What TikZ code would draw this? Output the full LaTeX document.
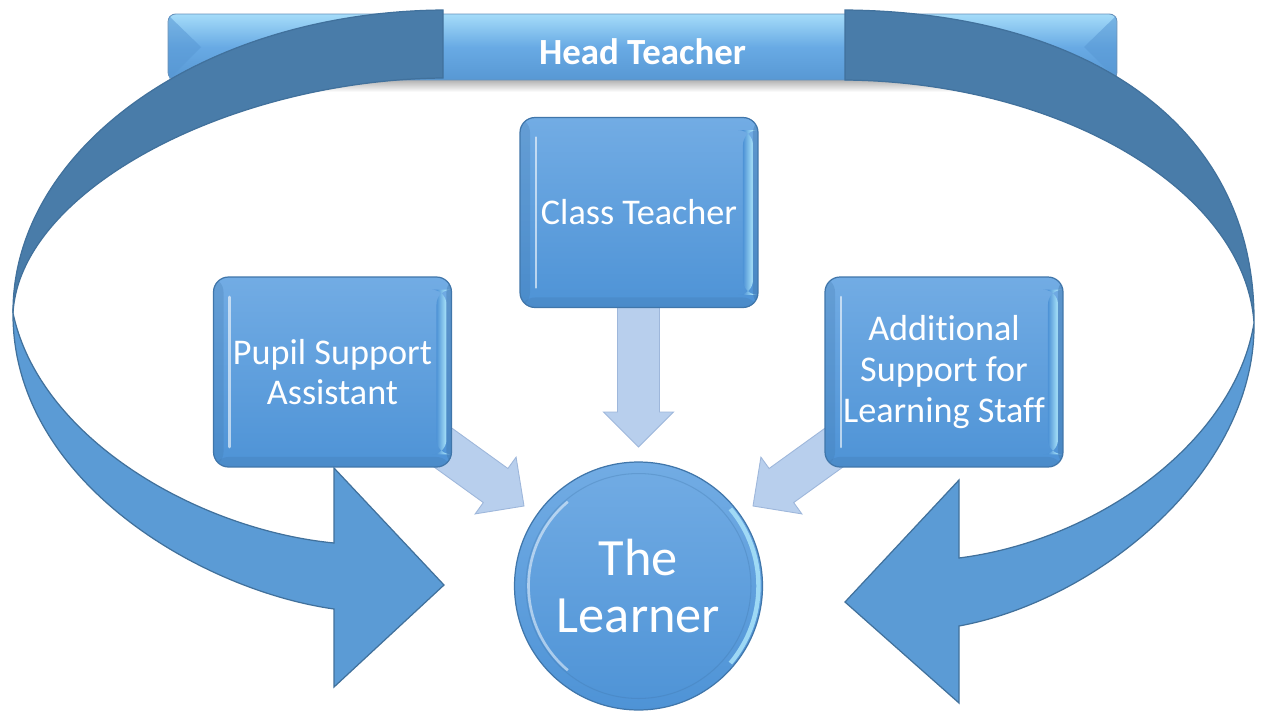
\documentclass[tikz,border=0pt]{standalone}
\usepackage{fontspec}
\setmainfont{Carlito}[Ligatures=NoCommon]
\usetikzlibrary{calc}

\definecolor{ribbondark}{RGB}{73,124,169}
\definecolor{ribbonlight}{RGB}{91,155,213}
\definecolor{ribbonedge}{RGB}{65,113,156}
\definecolor{boxtop}{RGB}{114,172,228}
\definecolor{boxbottom}{RGB}{78,147,214}
\definecolor{boxedge}{RGB}{64,118,170}
\definecolor{rim}{RGB}{170,228,250}
\definecolor{headtop}{RGB}{165,220,249}
\definecolor{headmid}{RGB}{104,170,228}
\definecolor{headbottom}{RGB}{88,152,212}
\definecolor{arrowfill}{RGB}{184,207,237}
\definecolor{arrowedge}{RGB}{158,183,219}

\tikzset{
  % light block arrow pointing along +x, tip at the origin
  feedarrow/.pic={
    \filldraw[fill=arrowfill, draw=arrowedge, line width=0.5pt]
      (0,0) -- (-35,-35) -- (-35,-21) -- (-150,-21) -- (-150,21)
      -- (-35,21) -- (-35,35) -- cycle;
  },
  roleBox/.style={
    draw=boxedge, line width=0.7pt, rounded corners=0.3cm,
    top color=boxtop, bottom color=boxbottom,
    minimum width=4.76cm, minimum height=3.8cm, inner sep=0pt,
    text=white, align=center, font=\fontsize{20.6}{23.2}\selectfont,
    path picture={
      \fill[boxedge, opacity=.25] (path picture bounding box.north west)
        rectangle ([xshift=0.2cm]path picture bounding box.south west);
      \draw[white, opacity=.6, line width=1.5pt, line cap=round]
        ([xshift=0.32cm,yshift=-0.4cm]path picture bounding box.north west)
        -- ([xshift=0.32cm,yshift=0.4cm]path picture bounding box.south west);
      \shade[left color=boxbottom, right color=rim]
        ([xshift=-0.3cm,yshift=-0.25cm]path picture bounding box.north east)
        rectangle ([xshift=-0.1cm,yshift=0.25cm]path picture bounding box.south east);
      \fill[boxedge, opacity=.4] ([xshift=-0.1cm]path picture bounding box.north east)
        rectangle (path picture bounding box.south east);
      \fill[boxedge, opacity=.25] ([yshift=0.2cm]path picture bounding box.south west)
        rectangle (path picture bounding box.south east);
    }
  },
  learnerCircle/.style={
    circle, draw=boxedge, line width=0.7pt, minimum size=4.96cm, inner sep=0pt,
    top color=boxtop, bottom color=boxbottom,
    text=white, align=center, font=\fontsize{29.8}{33}\selectfont,
    path picture={
      \draw[boxedge, opacity=.3, line width=0.6pt]
        (path picture bounding box.center) circle[radius=2.25cm];
      \draw[white, opacity=.5, line width=1.5pt]
        ([shift={(130:2.2cm)}]path picture bounding box.center)
        arc[start angle=130, end angle=230, radius=2.2cm];
      \draw[rim, opacity=.85, line width=2.5pt]
        ([shift={(-40:2.4cm)}]path picture bounding box.center)
        arc[start angle=-40, end angle=40, radius=2.4cm];
    }
  },
  headBar/.style={
    draw=boxedge!80, line width=0.5pt, rounded corners=0.15cm,
    top color=headtop, bottom color=headbottom, middle color=headmid,
    minimum width=18.98cm, minimum height=1.32cm, inner sep=0pt
  },
  headText/.style={text=white, font=\fontsize{21}{24}\selectfont\bfseries},
  ribbonBack/.style={fill=ribbondark, draw=ribbonedge, line width=0.7pt},
  ribbonFront/.style={fill=ribbonlight, draw=ribbonedge, line width=0.7pt}
}

\begin{document}
\begin{tikzpicture}[x=0.02cm, y=-0.02cm]
\useasboundingbox (0,0) rectangle (1261,710);
\fill[white] (0,0) rectangle (1261,710);

% head teacher bar with its soft shadow and bevelled ends
\shade[top color=black!30, bottom color=white] (178,80) rectangle (1108,92);
\node[headBar] (head) at (642.5,47) {};
\fill[headbottom, opacity=.55] (169,16) -- (201,47) -- (169,79) -- cycle;
\fill[headbottom, opacity=.55] (1116,16) -- (1084,47) -- (1116,79) -- cycle;
\node[headText, yshift=-0.1cm] (headlabel) at (head) {Head Teacher};

% left circular ribbon arrow (back half, then front half with head)
\path[ribbonBack] (443,10) .. controls (200,12) and (12,150) .. (13,313)
  .. controls (20,190) and (230,80) .. (443,78) -- cycle;
\path[ribbonFront] (13,313) .. controls (12,480) and (200,590) .. (334,609)
  -- (334,687) -- (444,585) -- (334,468) -- (334,543)
  .. controls (200,530) and (40,440) .. (13,313) -- cycle;

% right circular ribbon arrow
\path[ribbonBack] (845,10) .. controls (1080,12) and (1256,120) .. (1254,323)
  .. controls (1245,190) and (1060,82) .. (845,80) -- cycle;
\path[ribbonFront] (1254,323) .. controls (1256,470) and (1100,600) .. (959,626)
  -- (959,703) -- (845,602) -- (959,480) -- (959,558)
  .. controls (1100,540) and (1235,440) .. (1254,323) -- cycle;

% tips of the light arrows pointing at the learner
\coordinate (tipClass) at (638.5,447);
\coordinate (tipPupil) at (524,506);
\coordinate (tipStaff) at (753,506);
\pic[rotate=-90] at (tipClass) {feedarrow};
\pic[rotate=-35.8] at (tipPupil) {feedarrow};
\pic[rotate=-144.2] at (tipStaff) {feedarrow};

% roles
\node[roleBox] (class) at (639,212.5) {Class Teacher};
\node[roleBox] (pupil) at (332.5,372) {Pupil Support\\Assistant};
\node[roleBox] (staff) at (944,372) {Additional\\Support for\\Learning Staff};

% the learner
\node[learnerCircle] (learner) at (638.5,586) {The\\Learner};
\end{tikzpicture}
\end{document}
